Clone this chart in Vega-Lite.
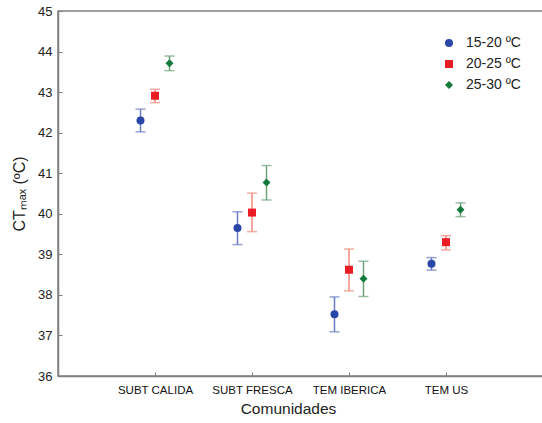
{
  "$schema": "https://vega.github.io/schema/vega-lite/v6.json",
  "autosize": {"type": "none"},
  "width": 485,
  "height": 365,
  "padding": {"left": 58, "top": 11, "right": 0, "bottom": 47},
  "background": "white",
  "config": {
    "view": {"stroke": "#808080", "strokeWidth": 1.5},
    "font": "Liberation Sans",
    "axis": {"grid": false, "domainColor": "#808080", "domainWidth": 1.5, "tickColor": "#808080", "tickWidth": 1, "labelColor": "#222", "titleColor": "#222", "labelFont": "Liberation Sans", "titleFont": "Liberation Sans", "titleFontWeight": "normal"},
    "legend": {"title": null, "orient": "none", "legendX": 384, "legendY": 25, "padding": 0, "rowPadding": 7, "labelOffset": 10, "labelFontSize": 14, "labelColor": "#222", "labelFont": "Liberation Sans"}
  },
  "data": {"values": [
    {"grupo": "SUBT CALIDA", "serie": "15-20 ºC", "media": 42.30, "lo": 42.02, "hi": 42.58},
    {"grupo": "SUBT CALIDA", "serie": "20-25 ºC", "media": 42.91, "lo": 42.74, "hi": 43.07},
    {"grupo": "SUBT CALIDA", "serie": "25-30 ºC", "media": 43.71, "lo": 43.53, "hi": 43.89},
    {"grupo": "SUBT FRESCA", "serie": "15-20 ºC", "media": 39.65, "lo": 39.24, "hi": 40.05},
    {"grupo": "SUBT FRESCA", "serie": "20-25 ºC", "media": 40.03, "lo": 39.56, "hi": 40.51},
    {"grupo": "SUBT FRESCA", "serie": "25-30 ºC", "media": 40.77, "lo": 40.34, "hi": 41.19},
    {"grupo": "TEM IBERICA", "serie": "15-20 ºC", "media": 37.52, "lo": 37.09, "hi": 37.95},
    {"grupo": "TEM IBERICA", "serie": "20-25 ºC", "media": 38.62, "lo": 38.10, "hi": 39.13},
    {"grupo": "TEM IBERICA", "serie": "25-30 ºC", "media": 38.40, "lo": 37.96, "hi": 38.83},
    {"grupo": "TEM US", "serie": "15-20 ºC", "media": 38.77, "lo": 38.61, "hi": 38.92},
    {"grupo": "TEM US", "serie": "20-25 ºC", "media": 39.30, "lo": 39.11, "hi": 39.46},
    {"grupo": "TEM US", "serie": "25-30 ºC", "media": 40.10, "lo": 39.93, "hi": 40.27}
  ]},
  "encoding": {
    "x": {"field": "grupo", "type": "nominal", "sort": null,
      "scale": {"type": "point", "padding": 1},
      "axis": {"title": "Comunidades", "labelAngle": 0, "tickSize": -4, "labelPadding": 12, "labelFontSize": 11.5, "labelColor": "#111", "titleFontSize": 15.5, "titlePadding": 6, "titleX": 230}},
    "xOffset": {"field": "serie", "type": "nominal", "scale": {"type": "point", "range": [-14.5, 14.5], "padding": 0}},
    "y": {"type": "quantitative", "scale": {"domain": [36, 45], "nice": false, "zero": false},
      "axis": {"title": "CTₘₐₓ (ºC)", "values": [36, 37, 38, 39, 40, 41, 42, 43, 44, 45], "tickSize": -4, "labelPadding": 10, "labelFontSize": 13, "titleFontSize": 16, "titlePadding": 10}}
  },
  "layer": [
    {
      "mark": {"type": "rule", "strokeWidth": 1.5},
      "encoding": {
        "y": {"field": "lo", "type": "quantitative"},
        "y2": {"field": "hi"},
        "color": {"field": "serie", "type": "nominal", "scale": {"range": ["#6a7cc2", "#f28a7c", "#6fa27a"]}, "legend": null}
      }
    },
    {
      "mark": {"type": "tick", "size": 10, "thickness": 1.5, "orient": "horizontal"},
      "encoding": {
        "y": {"field": "lo", "type": "quantitative"},
        "color": {"field": "serie", "type": "nominal", "scale": {"range": ["#6a7cc2", "#f28a7c", "#6fa27a"]}, "legend": null}
      }
    },
    {
      "mark": {"type": "tick", "size": 10, "thickness": 1.5, "orient": "horizontal"},
      "encoding": {
        "y": {"field": "hi", "type": "quantitative"},
        "color": {"field": "serie", "type": "nominal", "scale": {"range": ["#6a7cc2", "#f28a7c", "#6fa27a"]}, "legend": null}
      }
    },
    {
      "mark": {"type": "point", "filled": true, "opacity": 1},
      "encoding": {
        "y": {"field": "media", "type": "quantitative"},
        "fill": {"field": "serie", "type": "nominal", "scale": {"range": ["#2a46a8", "#ec1c24", "#137a3b"]}},
        "shape": {"field": "serie", "type": "nominal", "scale": {"range": ["circle", "square", "diamond"]}},
        "size": {"field": "serie", "type": "nominal", "scale": {"range": [64, 64, 50]}}
      }
    }
  ]
}
